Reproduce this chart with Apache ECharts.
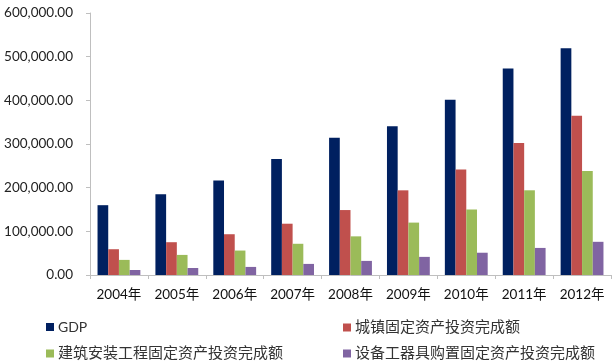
<!DOCTYPE html>
<html><head><meta charset="utf-8">
<script src="https://cdn.jsdelivr.net/npm/echarts@6/dist/echarts.min.js"></script>
<style>html,body{margin:0;padding:0;background:#fff}#c{width:612px;height:364px}</style>
</head><body><div id="c"></div>
<script>
const categories = ['2004年','2005年','2006年','2007年','2008年','2009年','2010年','2011年','2012年'];
const seriesNames = ['GDP','城镇固定资产投资完成额','建筑安装工程固定资产投资完成额','设备工器具购置固定资产投资完成额'];
const gdp = [159878, 184937, 216314, 265810, 314045, 340903, 401513, 473104, 519470];
const urbanFAI = [59028, 75095, 93369, 117464, 148738, 193920, 241431, 302396, 364835];
const construction = [34600, 46000, 56000, 71500, 88500, 120000, 150000, 194000, 238000];
const equipment = [11500, 16000, 18500, 25400, 32300, 41500, 51000, 62000, 76000];
const colors = ['#002060','#C0504D','#9BBB59','#8064A2'];
const values = [gdp, urbanFAI, construction, equipment];

const chart = echarts.init(document.getElementById('c'), null, {renderer:'canvas'});
const legendPos = [[46,320],[343,320],[46,346],[343,346]];
const legendFont = [14,15,15,15];
chart.setOption({
  animation:false,
  color: colors,
  grid:{left:90,right:1,top:13,bottom:89,containLabel:false},
  legend: seriesNames.map((n,i)=>({
    data:[n], left:legendPos[i][0], top:legendPos[i][1], icon:'rect',
    itemWidth:8, itemHeight:8, itemGap:0, padding:0,
    textStyle:{fontFamily:'Lato, "Noto Sans CJK SC", sans-serif', fontSize:legendFont[i], color:'#333', padding:[0,0,0,-1]}
  })),
  xAxis:{
    type:'category', data:categories,
    axisLine:{lineStyle:{color:'#BFBFBF',width:1}},
    axisTick:{show:true,length:4,lineStyle:{color:'#BFBFBF'}},
    axisLabel:{interval:0, hideOverlap:false, fontFamily:'Lato, "Noto Sans CJK SC", sans-serif', fontSize:13.5, color:'#111', margin:13}
  },
  yAxis:{
    type:'value', min:0, max:600000, interval:100000,
    splitLine:{show:false},
    axisLine:{show:true,lineStyle:{color:'#BFBFBF',width:1}},
    axisTick:{show:true,length:4,lineStyle:{color:'#BFBFBF'}},
    axisLabel:{fontFamily:'Lato, sans-serif', fontSize:13.5, color:'#222', margin:17,
      formatter:v=>v.toLocaleString('en-US',{minimumFractionDigits:2,maximumFractionDigits:2})}
  },
  series: seriesNames.map((n,i)=>({
    name:n, type:'bar', data:values[i], barGap:'0%', barCategoryGap:'26%',
    itemStyle:{color:colors[i]}
  }))
});
</script></body></html>
